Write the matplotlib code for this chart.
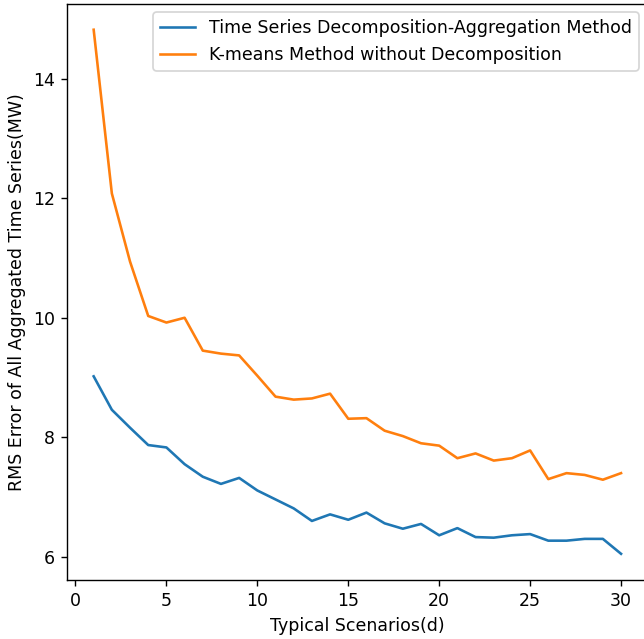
import numpy as np
import matplotlib
matplotlib.use("Agg")
import matplotlib.pyplot as plt

## Number of typical scenarios (days)
scenarios = np.arange(1, 31)

## RMS error, decomposition-aggregation method
rms_decomp = [9.02, 8.46, 8.16, 7.87, 7.83, 7.55, 7.34, 7.22, 7.32, 7.11,
              6.96, 6.81, 6.60, 6.71, 6.62, 6.74, 6.56, 6.47, 6.55, 6.36,
              6.48, 6.33, 6.32, 6.36, 6.38, 6.27, 6.27, 6.30, 6.30, 6.05]

## RMS error, k-means without decomposition
rms_kmeans = [14.82, 12.08, 10.94, 10.03, 9.92, 10.00, 9.45, 9.40, 9.37, 9.03,
              8.68, 8.63, 8.65, 8.73, 8.31, 8.32, 8.11, 8.02, 7.90, 7.86,
              7.65, 7.73, 7.61, 7.65, 7.78, 7.30, 7.40, 7.37, 7.29, 7.40]

labels = ["Time Series Decomposition-Aggregation Method",
          "K-means Method without Decomposition"]

DPI = 125   # original looks rendered at a bit higher dpi than 100
fig = plt.figure(figsize=(644 / DPI, 639 / DPI), dpi=DPI)
ax = fig.add_axes([0.1045, 0.0923, 0.9008, 0.9022])

ax.plot(scenarios, rms_decomp, label=labels[0])
ax.plot(scenarios, rms_kmeans, label=labels[1])
ax.set_xlim(-0.45, 31.45)
ax.set_xlabel("Typical Scenarios(d)")
ax.set_ylabel("RMS Error of All Aggregated Time Series(MW)")
ax.legend(loc="upper right")

fig.savefig("out.png", dpi=DPI)
